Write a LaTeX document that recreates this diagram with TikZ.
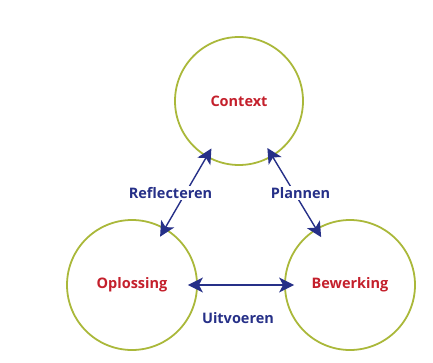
\documentclass[tikz,border=0pt]{standalone}
\usepackage{fontspec}
\setmainfont{Open Sans}
\usepackage{tikz}
\usetikzlibrary{calc, arrows.meta}
\usepackage{xcolor}
\definecolor{cgreen}{RGB}{170,184,58}
\definecolor{cred}{RGB}{196,32,44}
\definecolor{cblue}{RGB}{38,48,136}

\begin{document}
\begin{tikzpicture}[x=1pt, y=-1pt,
    phase/.style={draw=cgreen, line width=1.8pt, circle, minimum size=128pt, inner sep=0pt,
                  text=cred, font=\fontsize{14.5}{17}\selectfont\bfseries},
    steplabel/.style={text=cblue, fill=white, inner sep=1pt, font=\fontsize{14.5}{17}\selectfont\bfseries},
    arrow/.style={{Stealth[length=15pt, width=15pt, inset=4pt]}-{Stealth[length=15pt, width=15pt, inset=4pt]},
                  line width=1.4pt, cblue, shorten <=-10pt, shorten >=-10pt},
]
\useasboundingbox (0,0) rectangle (433,363);

\node[phase] (context) at (239,101) {Context};
\node[phase, minimum size=130pt] (oplossing) at (132,285) {Oplossing};
\node[phase, minimum size=130pt] (bewerking) at (350,285) {Bewerking};

\draw[arrow] (context) -- (oplossing);
\draw[arrow] (context) -- (bewerking);
\draw[arrow] (oplossing) -- (bewerking);

\coordinate (reflmid) at ($(context.center)!0.5!(oplossing.center)$);
\coordinate (planmid) at ($(context.center)!0.5!(bewerking.center)$);
\node[steplabel, xshift=-15pt] (reflecteren) at (reflmid) {Reflecteren};
\node[steplabel, xshift=6pt] (plannen) at (planmid) {Plannen};
\node[steplabel] (uitvoeren) at (238,318) {Uitvoeren};

\end{tikzpicture}
\end{document}
